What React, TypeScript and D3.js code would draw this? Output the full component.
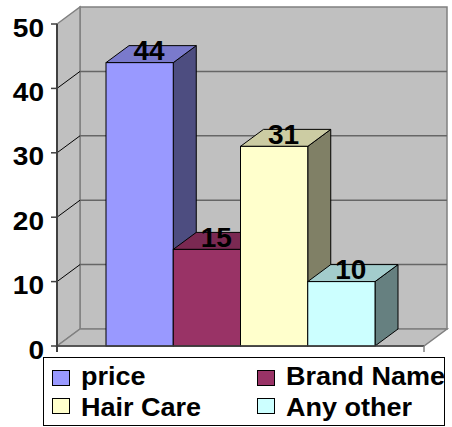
import React from "react";
import * as d3 from "d3";

const series = ["price", "Brand Name", "Hair Care", "Any other"];
const values = [44, 15, 31, 10];
const colors = ["#9999FF", "#993366", "#FFFFCC", "#CCFFFF"];
const yTicks = [0, 10, 20, 30, 40, 50];

const W = 452, H = 427;
const X0 = 57, X1 = 424, Y0 = 346, Y1 = 24;
const DX = 23, DY = -17;
const FONT = "'Liberation Sans', Arial, sans-serif";

export default function App() {
  const y = d3.scaleLinear().domain([0, 50]).range([Y0, Y1]);
  const x = d3.scaleBand<string>().domain(series).range([106, 375]).padding(0);
  const bw = x.bandwidth();
  const shade = (c: string, k: number) => {
    const r = d3.rgb(c);
    return d3.rgb(r.r * k, r.g * k, r.b * k).formatHex();
  };
  const pts = (a: number[][]) => a.map((p) => p.join(",")).join(" ");

  return (
    <svg width={W} height={H} style={{ position: "absolute", left: 0, top: 0, background: "#fff" }}>
      {/* walls */}
      <polygon points={pts([[X0 + DX, Y1 + DY], [X1 + DX, Y1 + DY], [X1 + DX, Y0 + DY], [X0 + DX, Y0 + DY]])} fill="#C0C0C0" stroke="#808080" strokeWidth={1.5} />
      <polygon points={pts([[X0, Y1], [X0 + DX, Y1 + DY], [X0 + DX, Y0 + DY], [X0, Y0]])} fill="#C0C0C0" stroke="#808080" strokeWidth={1.5} />
      <polygon points={pts([[X0, Y0], [X0 + DX, Y0 + DY], [X1 + DX, Y0 + DY], [X1, Y0]])} fill="#C0C0C0" stroke="#808080" strokeWidth={1.5} />
      {/* gridlines */}
      {yTicks.map((t) => (
        <g key={t}>
          {t > 0 && t < 50 && (
            <line x1={X0 + DX} x2={X1 + DX} y1={y(t) + DY} y2={y(t) + DY} stroke="#666" strokeWidth={1.5} />
          )}
          {t > 0 && t < 50 && (
            <line x1={X0} x2={X0 + DX} y1={y(t)} y2={y(t) + DY} stroke="#000" strokeWidth={1} />
          )}
        </g>
      ))}
      {/* bars */}
      {series.map((s, i) => {
        const xl = x(s)!;
        const xr = xl + bw;
        const yt = y(values[i]);
        return (
          <g key={s} stroke="#000" strokeWidth={1}>
            <polygon points={pts([[xr, yt], [xr + DX, yt + DY], [xr + DX, Y0 + DY], [xr, Y0]])} fill={shade(colors[i], 0.5)} />
            <polygon points={pts([[xl, yt], [xl + DX, yt + DY], [xr + DX, yt + DY], [xr, yt]])} fill={shade(colors[i], 0.8)} />
            <rect x={xl} y={yt} width={bw} height={Y0 - yt} fill={colors[i]} />
          </g>
        );
      })}
      {/* value labels */}
      {series.map((s, i) => (
        <text key={s} x={x(s)! + bw / 2 + DX / 2 - 2} y={y(values[i]) - 2.5} textAnchor="middle" fontFamily={FONT} fontWeight="bold" fontSize={28} fill="#000">
          {values[i]}
        </text>
      ))}
      {/* axis */}
      <line x1={X0} x2={X0} y1={Y1} y2={Y0 + 6} stroke="#404040" strokeWidth={2} />
      <line x1={X0} x2={X1} y1={Y0} y2={Y0} stroke="#404040" strokeWidth={1.5} />
      <line x1={X1} x2={X1} y1={Y0} y2={Y0 + 6} stroke="#808080" strokeWidth={1.5} />
      {yTicks.map((t) => (
        <g key={"t" + t}>
          <line x1={X0 - 6} x2={X0} y1={y(t)} y2={y(t)} stroke="#404040" strokeWidth={1.5} />
          <text transform={`translate(44,${y(t) + 12.5}) scale(1.08,1)`} textAnchor="end" fontFamily={FONT} fontWeight="bold" fontSize={26} fill="#000">
            {t}
          </text>
        </g>
      ))}
      {/* legend */}
      <rect x={43.5} y={357.5} width={401} height={68} fill="#fff" stroke="#000" strokeWidth={1} />
      {series.map((s, i) => {
        const col = i % 2 === 0 ? 0 : 1;
        const row = i < 2 ? 0 : 1;
        const sx = col === 0 ? 52.5 : 257.5;
        const sy = row === 0 ? 370.5 : 398.5;
        return (
          <g key={"l" + s}>
            <rect x={sx} y={sy} width={17} height={15} fill={colors[i]} stroke="#000" strokeWidth={1} />
            <text transform={`translate(${col === 0 ? 81 : 286},${row === 0 ? 385 : 416}) scale(1.08,1)`} fontFamily={FONT} fontWeight="bold" fontSize={25} fill="#000">
              {s}
            </text>
          </g>
        );
      })}
    </svg>
  );
}
